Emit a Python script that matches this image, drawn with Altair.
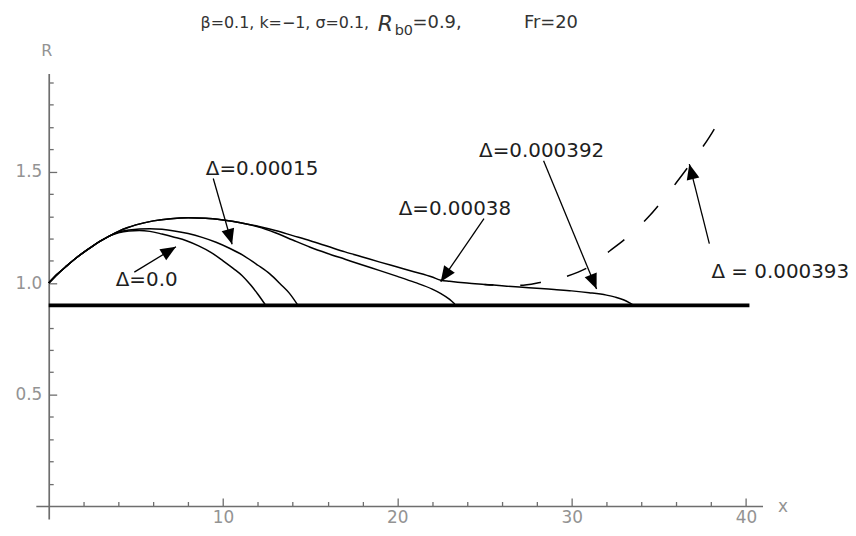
import math
import altair as alt
import pandas as pd

# ---------------- data ----------------
shared_x = [0, 0.5, 1, 1.5, 2, 2.5, 3, 3.5]
shared_R = [1.0, 1.04, 1.075, 1.108, 1.138, 1.165, 1.19, 1.212]

env_x = [4, 4.5, 5, 6, 7, 8, 9, 10, 11]
env_R = [1.232, 1.248, 1.261, 1.279, 1.289, 1.293, 1.291, 1.283, 1.271]

env2_x = [12, 13, 14, 15, 16, 17, 18, 19, 20, 21, 22, 22.5]
env2_R = [1.255, 1.236, 1.213, 1.19, 1.165, 1.14, 1.117, 1.094, 1.072, 1.05, 1.027, 1.013]

d0_x = [4, 4.6, 5.2, 5.8, 6.5, 7.2, 7.9, 8.6, 9.3, 10.0, 10.6, 11.1, 11.6, 12.0, 12.45]
d0_R = [1.226, 1.234, 1.236, 1.232, 1.22, 1.206, 1.19, 1.167, 1.138, 1.1, 1.065, 1.033, 0.99, 0.95, 0.9]

d15_x = [4, 4.6, 5.2, 5.8, 6.5, 7.2, 8.0, 8.8, 9.6, 10.4, 11.2, 12.0, 12.7, 13.3, 13.8, 14.3]
d15_R = [1.228, 1.238, 1.243, 1.244, 1.241, 1.234, 1.222, 1.205, 1.183, 1.155, 1.122, 1.08, 1.04, 0.995, 0.955, 0.9]

d38_x = [12, 13, 14, 15, 16, 17, 18, 19, 20, 21, 22, 22.5, 23, 23.3]
d38_R = [1.253, 1.226, 1.193, 1.161, 1.133, 1.107, 1.081, 1.056, 1.03, 1.003, 0.973, 0.953, 0.927, 0.906]

d392_x = [23, 24, 25, 26, 27, 28, 29, 30, 31, 32, 32.5, 33, 33.3, 33.5, 33.6]
d392_R = [1.008, 1.0, 0.994, 0.988, 0.982, 0.977, 0.971, 0.965, 0.957, 0.946, 0.937, 0.924, 0.912, 0.903, 0.9]

d393_x = [25, 26, 27, 28.2, 29.7, 31, 32.2, 33.1, 34.4, 35.1, 36, 37, 37.9, 38.45]
d393_R = [0.994, 0.99, 0.99, 1.003, 1.03, 1.073, 1.145, 1.2, 1.296, 1.36, 1.45, 1.555, 1.655, 1.727]

base_x = [0, 40.2]
base_R = [0.9, 0.9]

labels = ["Δ=0.0", "Δ=0.00015", "Δ=0.00038", "Δ=0.000392", "Δ = 0.000393"]
label_x = [5.62, 12.24, 23.3, 28.28, 41.97]
label_R = [1.013, 1.513, 1.33, 1.594, 1.05]
arrow_x0 = [4.91, 9.44, 24.97, 28.39, 37.9]
arrow_R0 = [1.049, 1.469, 1.289, 1.549, 1.177]
arrow_x1 = [7.3, 10.52, 22.49, 31.43, 36.75]
arrow_R1 = [1.163, 1.174, 1.006, 0.973, 1.534]

x_major = [10, 20, 30, 40]
x_minor = list(range(2, 41, 2))
y_major = [0.5, 1.0, 1.5]
y_minor = [0.1, 0.2, 0.3, 0.4, 0.5, 0.6, 0.7, 0.8, 0.9, 1.0,
           1.1, 1.2, 1.3, 1.4, 1.5, 1.6, 1.7, 1.8, 1.9]

title_parts = ["β=0.1, k=−1, σ=0.1,", "R", "b0", "=0.9,", "Fr=20"]

# ---------------- layout ----------------
XMIN, XMAX = -0.74, 40.95
YMIN, YMAX = -0.058, 1.94
W, H = 731, 448
x0_px = W * (0 - XMIN) / (XMAX - XMIN)
y0_px = H * (YMAX - 0) / (YMAX - YMIN)
sx = W / (XMAX - XMIN)
sy = H / (YMAX - YMIN)

FONT = "DejaVu Sans"
AXIS_GRAY = "#6e6e6e"
LABEL_GRAY = "#939393"

sc_x = alt.Scale(domain=[XMIN, XMAX], nice=False, zero=False)
sc_y = alt.Scale(domain=[YMIN, YMAX], nice=False, zero=False)

# ---------------- tables ----------------
def series(name, xs, rs):
    return [{"x": a, "R": b, "curve": name} for a, b in zip(xs, rs)]

rows = []
rows += series("Δ=0.0", shared_x + d0_x, shared_R + d0_R)
rows += series("Δ=0.00015", shared_x + d15_x, shared_R + d15_R)
rows += series("Δ=0.00038", shared_x + env_x + d38_x, shared_R + env_R + d38_R)
rows += series("Δ=0.000392", shared_x + env_x + env2_x + d392_x,
               shared_R + env_R + env2_R + d392_R)
curves_df = pd.DataFrame(rows)
dashed_df = pd.DataFrame(series("Δ=0.000393", d393_x, d393_R))
base_df = pd.DataFrame({"x": base_x, "R": base_R})

ang = []
for a0, r0, a1, r1 in zip(arrow_x0, arrow_R0, arrow_x1, arrow_R1):
    ang.append(math.degrees(math.atan2((a1 - a0) * sx, (r1 - r0) * sy)) % 360)
ann_df = pd.DataFrame({
    "label": labels, "lx": label_x, "lR": label_R,
    "x0": arrow_x0, "R0": arrow_R0, "x1": arrow_x1, "R1": arrow_R1, "ang": ang,
})

# ---------------- axes ----------------
x_axis_main = alt.Axis(
    orient="bottom", offset=y0_px - H, values=x_major, ticks=False, tickSize=0,
    grid=False, domainColor=AXIS_GRAY, domainWidth=1.7,
    labelColor=LABEL_GRAY, labelFont=FONT, labelFontSize=17, labelPadding=4,
    labelOverlap=False, labelFlush=False,
    title="x", titleX=751, titleY=1, titleAngle=0, titleAlign="center",
    titleBaseline="middle", titleColor=LABEL_GRAY, titleFont=FONT,
    titleFontSize=17, titleFontWeight="normal",
)
y_axis_main = alt.Axis(
    orient="left", offset=-x0_px, values=y_major, format=".1f", ticks=False,
    tickSize=0, grid=False, domainColor=AXIS_GRAY, domainWidth=1.7,
    labelColor=LABEL_GRAY, labelFont=FONT, labelFontSize=17, labelPadding=7,
    labelOverlap=False, labelFlush=False,
    title="R", titleX=-2.5, titleY=-23.4, titleAngle=0, titleAlign="center",
    titleBaseline="middle", titleColor=LABEL_GRAY, titleFont=FONT,
    titleFontSize=16, titleFontWeight="normal",
)
x_axis_ticks = alt.Axis(
    orient="top", offset=-y0_px, values=x_minor, labels=False, domain=False,
    grid=False, ticks=True, tickColor=AXIS_GRAY, tickWidth=1.3,
    tickSize={"condition": {"test": "datum.value % 10 === 0", "value": 8}, "value": 4.5},
    title=None,
)
y_axis_ticks = alt.Axis(
    orient="right", offset=x0_px - W, values=y_minor, labels=False, domain=False,
    grid=False, ticks=True, tickColor=AXIS_GRAY, tickWidth=1.3,
    tickSize={"condition": {"test": "round(datum.value * 10) % 5 === 0", "value": 8}, "value": 4.5},
    title=None,
)

# ---------------- layers ----------------
baseline = alt.Chart(base_df).mark_line(color="black", strokeWidth=3.6).encode(
    x=alt.X("x:Q", scale=sc_x, axis=x_axis_ticks),
    y=alt.Y("R:Q", scale=sc_y, axis=y_axis_ticks),
)

curves = alt.Chart(curves_df).mark_line(
    color="black", strokeWidth=1.5, interpolate="monotone"
).encode(
    x=alt.X("x:Q", scale=sc_x, axis=x_axis_main),
    y=alt.Y("R:Q", scale=sc_y, axis=y_axis_main),
    detail="curve:N",
)

dashed = alt.Chart(dashed_df).mark_line(
    color="black", strokeWidth=1.5, interpolate="monotone",
    strokeDash=[21, 27], strokeDashOffset=12,
).encode(
    x=alt.X("x:Q", scale=sc_x, axis=None),
    y=alt.Y("R:Q", scale=sc_y, axis=None),
)

shafts = alt.Chart(ann_df).mark_rule(color="black", strokeWidth=1.3).encode(
    x=alt.X("x0:Q", scale=sc_x, axis=None),
    y=alt.Y("R0:Q", scale=sc_y, axis=None),
    x2="x1:Q", y2="R1:Q",
)

HEAD = "M0,0L0.42,1L-0.42,1Z"
heads = alt.Chart(ann_df).mark_point(
    shape=HEAD, filled=True, color="black", opacity=1, size=961, strokeWidth=0
).encode(
    x=alt.X("x1:Q", scale=sc_x, axis=None),
    y=alt.Y("R1:Q", scale=sc_y, axis=None),
    angle=alt.Angle("ang:Q", scale=None),
)

texts = alt.Chart(ann_df).mark_text(
    font=FONT, fontSize=20, color="#1e1e1e", align="center", baseline="middle"
).encode(
    x=alt.X("lx:Q", scale=sc_x, axis=None),
    y=alt.Y("lR:Q", scale=sc_y, axis=None),
    text="label:N",
)

dummy = pd.DataFrame({"k": [0]})
TITLE_GRAY = "#333333"

def title_piece(txt, px, py, size, style="normal"):
    return alt.Chart(dummy).mark_text(
        text=txt, font=FONT, fontSize=size, fontStyle=style,
        color=TITLE_GRAY, align="left", baseline="alphabetic",
    ).encode(x=alt.value(px), y=alt.value(py))

t1 = title_piece(title_parts[0], 165.7, -46.0, 16)
t2 = title_piece(title_parts[1], 344, -43.0, 22, "italic")
t3 = title_piece(title_parts[2], 361, -39.0, 14.5)
t4 = title_piece(title_parts[3], 379, -46.0, 18)
t5 = title_piece(title_parts[4], 491, -46.0, 18)

chart = alt.layer(
    baseline, curves, dashed, shafts, heads, texts, t1, t2, t3, t4, t5
).resolve_axis(
    x="independent", y="independent"
).properties(
    width=W, height=H,
    autosize=alt.AutoSizeParams(type="none"),
    padding={"left": 28, "top": 64.4, "right": 86, "bottom": 8},
    background="white",
).configure_view(stroke=None)

chart.save("out.html", embed_options={"renderer": "svg", "actions": False})
